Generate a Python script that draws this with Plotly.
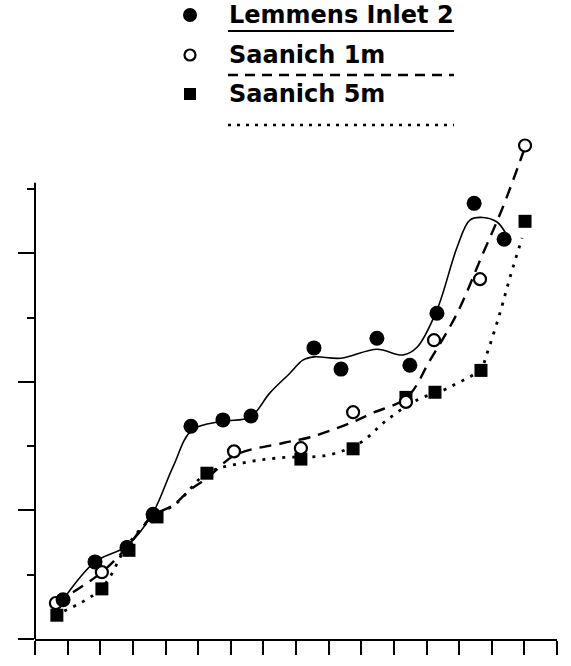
import plotly.graph_objects as go

# ---------------- data (axis units: x = tick index 0..16, y = tick index 0..7) -------------
lem_x = [0.86, 1.84, 2.82, 3.62, 4.78, 5.76, 6.62, 8.55, 9.38, 10.48, 11.49, 12.32, 13.46, 14.38]
lem_y = [0.61, 1.20, 1.42, 1.94, 3.31, 3.41, 3.47, 4.53, 4.20, 4.68, 4.26, 5.07, 6.78, 6.22]

s1_x = [0.64, 2.05, 2.82, 3.62, 6.10, 8.15, 9.75, 11.37, 12.23, 13.64, 15.02]
s1_y = [0.56, 1.04, 1.43, 1.91, 2.92, 2.97, 3.53, 3.69, 4.65, 5.60, 7.68]

s5_x = [0.67, 2.05, 2.88, 3.74, 5.27, 8.15, 9.75, 11.37, 12.26, 13.67, 15.02]
s5_y = [0.37, 0.78, 1.38, 1.90, 2.58, 2.80, 2.96, 3.76, 3.84, 4.18, 6.50]

# fitted curves
lem_fit_x = [0.86, 1.84, 2.82, 3.59, 4.23, 4.81, 5.76, 6.59, 7.20, 7.82, 8.21, 8.55, 9.38,
             10.48, 11.28, 11.71, 12.32, 12.94, 13.33, 13.73, 14.16, 14.41]
lem_fit_y = [0.61, 1.20, 1.45, 1.94, 2.68, 3.25, 3.39, 3.45, 3.83, 4.14, 4.34, 4.39, 4.37,
             4.51, 4.42, 4.54, 5.12, 6.10, 6.52, 6.56, 6.49, 6.33]

s1_fit_x = [0.64, 2.05, 2.82, 3.59, 4.23, 4.75, 5.27, 6.13, 7.60, 8.43, 9.66, 10.36, 11.40,
            12.11, 12.94, 13.73, 14.34, 14.99]
s1_fit_y = [0.56, 1.04, 1.43, 1.91, 2.08, 2.32, 2.50, 2.86, 3.05, 3.14, 3.36, 3.52, 3.76,
            4.34, 5.07, 6.00, 6.72, 7.61]

s5_fit_x = [0.61, 2.02, 2.82, 3.52, 4.35, 5.27, 6.38, 7.51, 8.95, 9.96, 10.79, 11.71, 12.51,
            12.94, 13.33, 13.67, 13.86, 14.25, 14.56, 14.93]
s5_fit_y = [0.37, 0.78, 1.45, 1.85, 2.12, 2.58, 2.74, 2.82, 2.86, 3.05, 3.41, 3.72, 3.87,
            3.98, 4.08, 4.20, 4.45, 5.07, 5.63, 6.24]

series_names = ["Lemmens Inlet 2", "Saanich 1m", "Saanich 5m"]

# ---------------- layout geometry (pixels) ----------------
W, H = 571, 666
ML, MR, MT, MB = 35, 14, 141, 27
PW, PH = W - ML - MR, H - MT - MB
Y_TOP = 7.75        # data range top (room for the last open circle)
AXIS_TOP = 7.1      # where the drawn y-axis line stops


def pxx(x):
    return (x - ML) / PW


def pxy(y):
    return (H - MB - y) / PH


FONT = "DejaVu Sans"

fig = go.Figure()

# fitted curves
fig.add_trace(go.Scatter(x=lem_fit_x, y=lem_fit_y, mode="lines", line_shape="spline",
                         line=dict(color="black", width=1.6), hoverinfo="skip", showlegend=False))
fig.add_trace(go.Scatter(x=s1_fit_x, y=s1_fit_y, mode="lines", line_shape="spline",
                         line=dict(color="black", width=2.4, dash="12px,8px"),
                         hoverinfo="skip", showlegend=False))
fig.add_trace(go.Scatter(x=s5_fit_x, y=s5_fit_y, mode="lines", line_shape="spline",
                         line=dict(color="black", width=2.8, dash="3px,7px"),
                         hoverinfo="skip", showlegend=False))

# points
fig.add_trace(go.Scatter(x=s5_x, y=s5_y, mode="markers", name=series_names[2], cliponaxis=False,
                         marker=dict(symbol="square", size=13, color="black"), showlegend=False))
fig.add_trace(go.Scatter(x=s1_x, y=s1_y, mode="markers", name=series_names[1], cliponaxis=False,
                         marker=dict(symbol="circle", size=12, color="white",
                                     line=dict(color="black", width=2.2)), showlegend=False))
fig.add_trace(go.Scatter(x=lem_x, y=lem_y, mode="markers", name=series_names[0], cliponaxis=False,
                         marker=dict(symbol="circle", size=15, color="black"), showlegend=False))

# ---------------- custom legend ----------------
rows = [(15, 31, "solid"), (55, 75, "10px,7px"), (94, 125, "3px,6px")]
text_x = 227
line_x0, line_x1 = 228, 454
mark_x = 190
shapes = []
annotations = []
for i, (ty, ly, dash) in enumerate(rows):
    annotations.append(dict(x=pxx(text_x), y=pxy(ty), xref="paper", yref="paper",
                            text="<b>%s</b>" % series_names[i], showarrow=False, xanchor="left",
                            yanchor="middle", font=dict(family=FONT, size=24, color="black")))
    shapes.append(dict(type="line", xref="paper", yref="paper",
                       x0=pxx(line_x0), x1=pxx(line_x1), y0=pxy(ly), y1=pxy(ly),
                       line=dict(color="black", width=2.4 if i else 2.2, dash=dash)))

# legend symbols
shapes.append(dict(type="circle", xref="paper", yref="paper", xsizemode="pixel", ysizemode="pixel",
                   xanchor=pxx(mark_x), yanchor=pxy(rows[0][0]), x0=-7, x1=7, y0=-7, y1=7,
                   fillcolor="black", line=dict(color="black", width=0)))
shapes.append(dict(type="circle", xref="paper", yref="paper", xsizemode="pixel", ysizemode="pixel",
                   xanchor=pxx(mark_x), yanchor=pxy(rows[1][0]), x0=-5.5, x1=5.5, y0=-5.5, y1=5.5,
                   fillcolor="white", line=dict(color="black", width=2.2)))
shapes.append(dict(type="rect", xref="paper", yref="paper", xsizemode="pixel", ysizemode="pixel",
                   xanchor=pxx(mark_x), yanchor=pxy(rows[2][0]), x0=-6, x1=6, y0=-6, y1=6,
                   fillcolor="black", line=dict(color="black", width=0)))

# y-axis line (stops below the top of the data area)
shapes.append(dict(type="line", xref="paper", yref="y", x0=0, x1=0, y0=0, y1=AXIS_TOP,
                   line=dict(color="black", width=2)))

fig.update_layout(
    width=W, height=H,
    margin=dict(l=ML, r=MR, t=MT, b=MB, pad=0),
    paper_bgcolor="white", plot_bgcolor="white",
    showlegend=False,
    shapes=shapes, annotations=annotations,
    xaxis=dict(range=[0, 16], tickmode="linear", tick0=0, dtick=1, ticks="outside",
               ticklen=14, tickwidth=2, tickcolor="black", showticklabels=False,
               showgrid=False, zeroline=False, showline=True, linecolor="black", linewidth=2),
    yaxis=dict(range=[0, Y_TOP], tickmode="linear", tick0=0, dtick=2, ticks="outside",
               ticklen=16, tickwidth=2, tickcolor="black", showticklabels=False,
               minor=dict(ticks="outside", tick0=0, dtick=1, ticklen=7, tickwidth=2,
                          tickcolor="black", showgrid=False),
               showgrid=False, zeroline=False, showline=False),
)

fig.write_html("out.html")
